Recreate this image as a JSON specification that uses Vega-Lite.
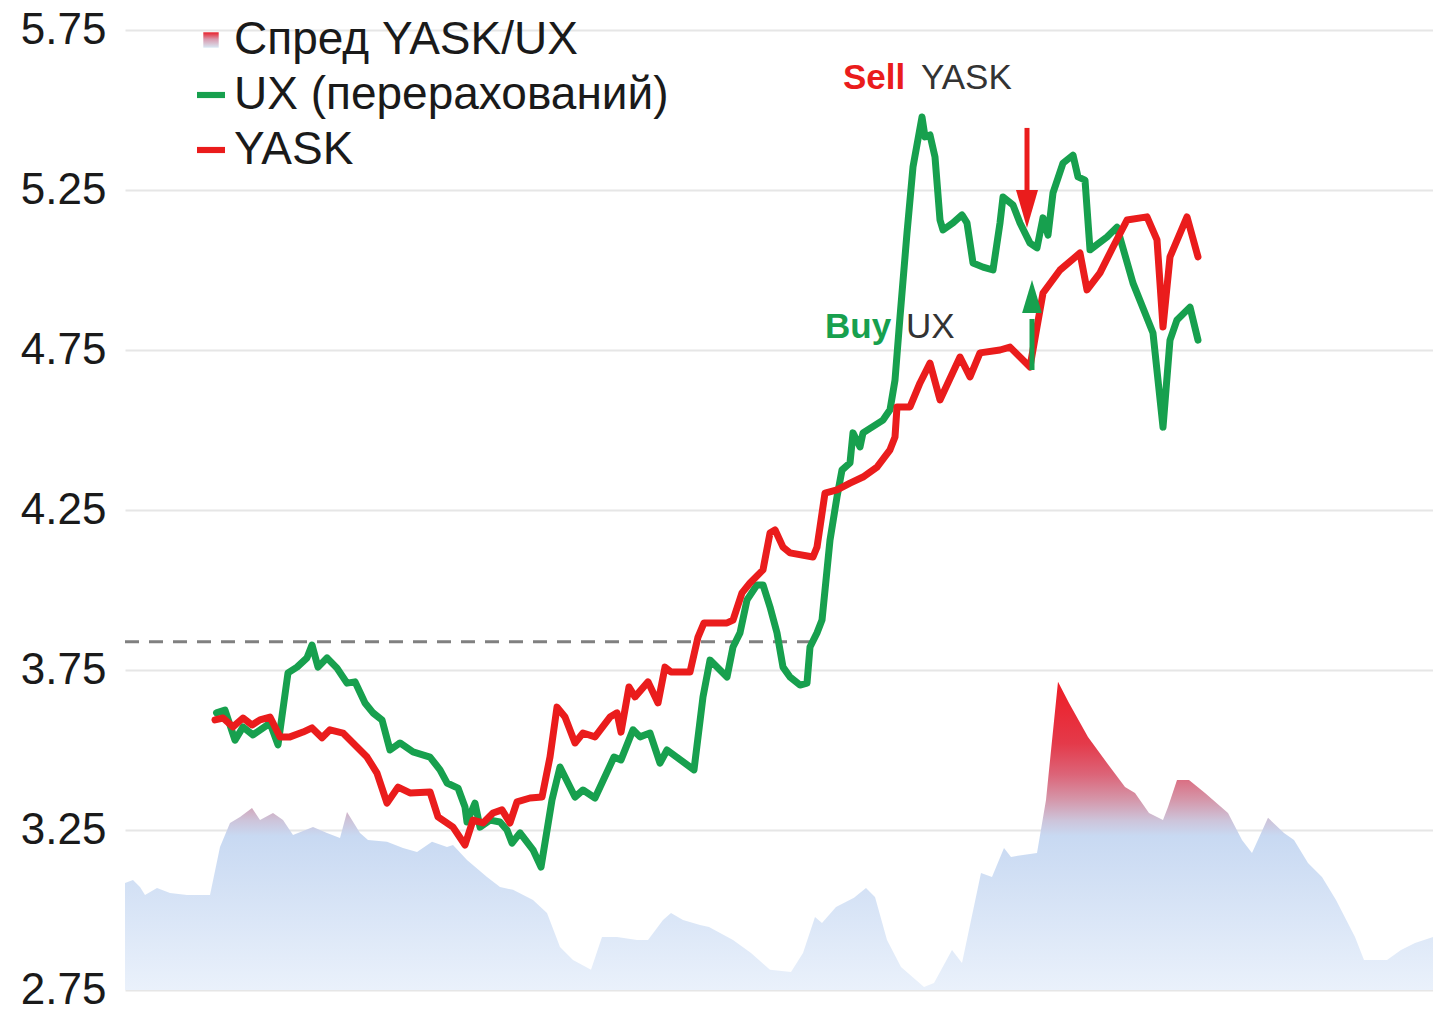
{
  "$schema": "https://vega.github.io/schema/vega-lite/v6.json",
  "width": 1308,
  "height": 960,
  "autosize": {"type": "none"},
  "padding": {"left": 125, "top": 30, "right": 0, "bottom": 22},
  "background": "white",
  "config": {"view": {"stroke": null}, "font": "Liberation Sans"},
  "datasets": {
    "spread": [
      {"t":0,"v":3.084},{"t":1.6,"v":3.094},{"t":3,"v":3.072},{"t":4,"v":3.047},{"t":6.4,"v":3.069},{"t":9,"v":3.053},{"t":12.4,"v":3.047},{"t":17,"v":3.047},{"t":19,"v":3.197},{"t":21,"v":3.272},{"t":23,"v":3.291},{"t":25.4,"v":3.319},{"t":27,"v":3.281},{"t":29.6,"v":3.303},{"t":31.6,"v":3.281},{"t":33.6,"v":3.234},{"t":37.6,"v":3.259},{"t":40.4,"v":3.241},{"t":43,"v":3.225},{"t":44.4,"v":3.306},{"t":47,"v":3.241},{"t":48.6,"v":3.219},{"t":52.4,"v":3.213},{"t":55.6,"v":3.194},{"t":58.4,"v":3.181},{"t":61.4,"v":3.213},{"t":64.4,"v":3.197},{"t":65.6,"v":3.203},{"t":68.4,"v":3.156},{"t":72.4,"v":3.103},{"t":75,"v":3.072},{"t":77.6,"v":3.063},{"t":81.6,"v":3.031},{"t":84.4,"v":2.991},{"t":87,"v":2.884},{"t":89.6,"v":2.844},{"t":93.2,"v":2.813},{"t":95.4,"v":2.916},{"t":98.4,"v":2.916},{"t":102.4,"v":2.906},{"t":104.6,"v":2.906},{"t":107.6,"v":2.969},{"t":109.2,"v":2.991},{"t":111.6,"v":2.969},{"t":115,"v":2.953},{"t":116.8,"v":2.947},{"t":121.6,"v":2.906},{"t":125.2,"v":2.866},{"t":129,"v":2.813},{"t":133.2,"v":2.806},{"t":135.6,"v":2.866},{"t":138,"v":2.978},{"t":139.4,"v":2.959},{"t":142.2,"v":3.009},{"t":145.8,"v":3.038},{"t":148.2,"v":3.069},{"t":150,"v":3.041},{"t":152.4,"v":2.906},{"t":155.2,"v":2.822},{"t":159.8,"v":2.759},{"t":161.8,"v":2.772},{"t":165.4,"v":2.875},{"t":167.4,"v":2.834},{"t":171.2,"v":3.116},{"t":173.4,"v":3.103},{"t":175.8,"v":3.194},{"t":177.2,"v":3.166},{"t":179.6,"v":3.172},{"t":182.4,"v":3.178},{"t":184.2,"v":3.344},{"t":186.6,"v":3.713},{"t":188.8,"v":3.647},{"t":192.6,"v":3.541},{"t":196.4,"v":3.459},{"t":200,"v":3.384},{"t":202,"v":3.366},{"t":204.8,"v":3.303},{"t":207.6,"v":3.281},{"t":208.6,"v":3.322},{"t":210.4,"v":3.406},{"t":212.8,"v":3.406},{"t":216,"v":3.366},{"t":220.6,"v":3.303},{"t":223.4,"v":3.219},{"t":225.4,"v":3.178},{"t":228.6,"v":3.288},{"t":231.8,"v":3.241},{"t":233.8,"v":3.219},{"t":236.6,"v":3.147},{"t":239.4,"v":3.103},{"t":242.2,"v":3.031},{"t":246,"v":2.916},{"t":247.8,"v":2.844},{"t":252.4,"v":2.844},{"t":255.2,"v":2.875},{"t":258,"v":2.897},{"t":261.6,"v":2.916}
    ],
    "prices": [
      {"s":"UX (перерахований)","t":18.3,"v":3.616},{"s":"UX (перерахований)","t":20,"v":3.625},{"s":"UX (перерахований)","t":22,"v":3.531},{"s":"UX (перерахований)","t":23.6,"v":3.572},{"s":"UX (перерахований)","t":25.6,"v":3.547},{"s":"UX (перерахований)","t":29,"v":3.584},{"s":"UX (перерахований)","t":30.6,"v":3.516},{"s":"UX (перерахований)","t":32.6,"v":3.741},{"s":"UX (перерахований)","t":34.4,"v":3.759},{"s":"UX (перерахований)","t":36.4,"v":3.788},{"s":"UX (перерахований)","t":37.4,"v":3.828},{"s":"UX (перерахований)","t":38.6,"v":3.759},{"s":"UX (перерахований)","t":40.4,"v":3.788},{"s":"UX (перерахований)","t":42.4,"v":3.756},{"s":"UX (перерахований)","t":44.4,"v":3.709},{"s":"UX (перерахований)","t":46,"v":3.713},{"s":"UX (перерахований)","t":48,"v":3.647},{"s":"UX (перерахований)","t":49.6,"v":3.616},{"s":"UX (перерахований)","t":51.4,"v":3.594},{"s":"UX (перерахований)","t":53,"v":3.5},{"s":"UX (перерахований)","t":55,"v":3.522},{"s":"UX (перерахований)","t":57.6,"v":3.494},{"s":"UX (перерахований)","t":61,"v":3.478},{"s":"UX (перерахований)","t":63,"v":3.438},{"s":"UX (перерахований)","t":64.4,"v":3.397},{"s":"UX (перерахований)","t":66.6,"v":3.381},{"s":"UX (перерахований)","t":68,"v":3.322},{"s":"UX (перерахований)","t":68.4,"v":3.275},{"s":"UX (перерахований)","t":70,"v":3.334},{"s":"UX (перерахований)","t":71,"v":3.259},{"s":"UX (перерахований)","t":73,"v":3.281},{"s":"UX (перерахований)","t":75,"v":3.275},{"s":"UX (перерахований)","t":76.4,"v":3.25},{"s":"UX (перерахований)","t":77.4,"v":3.209},{"s":"UX (перерахований)","t":79,"v":3.241},{"s":"UX (перерахований)","t":81.6,"v":3.188},{"s":"UX (перерахований)","t":83.2,"v":3.134},{"s":"UX (перерахований)","t":85.4,"v":3.344},{"s":"UX (перерахований)","t":87,"v":3.447},{"s":"UX (перерахований)","t":90,"v":3.353},{"s":"UX (перерахований)","t":91.6,"v":3.375},{"s":"UX (перерахований)","t":94,"v":3.35},{"s":"UX (перерахований)","t":97.8,"v":3.478},{"s":"UX (перерахований)","t":99.2,"v":3.469},{"s":"UX (перерахований)","t":101.6,"v":3.563},{"s":"UX (перерахований)","t":103,"v":3.541},{"s":"UX (перерахований)","t":105,"v":3.553},{"s":"UX (перерахований)","t":107,"v":3.459},{"s":"UX (перерахований)","t":108.4,"v":3.5},{"s":"UX (перерахований)","t":113.8,"v":3.438},{"s":"UX (перерахований)","t":115.6,"v":3.666},{"s":"UX (перерахований)","t":117,"v":3.781},{"s":"UX (перерахований)","t":120.4,"v":3.728},{"s":"UX (перерахований)","t":121.6,"v":3.822},{"s":"UX (перерахований)","t":123,"v":3.866},{"s":"UX (перерахований)","t":124.4,"v":3.969},{"s":"UX (перерахований)","t":126.4,"v":4.016},{"s":"UX (перерахований)","t":127.6,"v":4.016},{"s":"UX (перерахований)","t":129,"v":3.947},{"s":"UX (перерахований)","t":130.4,"v":3.866},{"s":"UX (перерахований)","t":131.6,"v":3.759},{"s":"UX (перерахований)","t":133,"v":3.728},{"s":"UX (перерахований)","t":135,"v":3.703},{"s":"UX (перерахований)","t":136.4,"v":3.709},{"s":"UX (перерахований)","t":137,"v":3.822},{"s":"UX (перерахований)","t":138.4,"v":3.866},{"s":"UX (перерахований)","t":139.4,"v":3.906},{"s":"UX (перерахований)","t":141,"v":4.156},{"s":"UX (перерахований)","t":142.4,"v":4.291},{"s":"UX (перерахований)","t":143.4,"v":4.375},{"s":"UX (перерахований)","t":145,"v":4.397},{"s":"UX (перерахований)","t":145.6,"v":4.491},{"s":"UX (перерахований)","t":147,"v":4.447},{"s":"UX (перерахований)","t":147.6,"v":4.491},{"s":"UX (перерахований)","t":151.6,"v":4.531},{"s":"UX (перерахований)","t":153,"v":4.563},{"s":"UX (перерахований)","t":154,"v":4.656},{"s":"UX (перерахований)","t":155,"v":4.853},{"s":"UX (перерахований)","t":156.4,"v":5.116},{"s":"UX (перерахований)","t":157.6,"v":5.322},{"s":"UX (перерахований)","t":159.4,"v":5.478},{"s":"UX (перерахований)","t":160,"v":5.416},{"s":"UX (перерахований)","t":161,"v":5.422},{"s":"UX (перерахований)","t":162,"v":5.353},{"s":"UX (перерахований)","t":163,"v":5.156},{"s":"UX (перерахований)","t":163.6,"v":5.125},{"s":"UX (перерахований)","t":165.6,"v":5.147},{"s":"UX (перерахований)","t":167.4,"v":5.172},{"s":"UX (перерахований)","t":168.4,"v":5.147},{"s":"UX (перерахований)","t":169.6,"v":5.022},{"s":"UX (перерахований)","t":171.6,"v":5.009},{"s":"UX (перерахований)","t":173.6,"v":5.0},{"s":"UX (перерахований)","t":175,"v":5.147},{"s":"UX (перерахований)","t":175.6,"v":5.228},{"s":"UX (перерахований)","t":177.6,"v":5.203},{"s":"UX (перерахований)","t":179,"v":5.147},{"s":"UX (перерахований)","t":181,"v":5.084},{"s":"UX (перерахований)","t":182.4,"v":5.069},{"s":"UX (перерахований)","t":183.6,"v":5.163},{"s":"UX (перерахований)","t":184.6,"v":5.109},{"s":"UX (перерахований)","t":185.6,"v":5.241},{"s":"UX (перерахований)","t":187.6,"v":5.334},{"s":"UX (перерахований)","t":189.6,"v":5.359},{"s":"UX (перерахований)","t":190.6,"v":5.291},{"s":"UX (перерахований)","t":192,"v":5.281},{"s":"UX (перерахований)","t":193,"v":5.063},{"s":"UX (перерахований)","t":196.4,"v":5.103},{"s":"UX (перерахований)","t":198.4,"v":5.134},{"s":"UX (перерахований)","t":201.6,"v":4.959},{"s":"UX (перерахований)","t":205.6,"v":4.803},{"s":"UX (перерахований)","t":207.6,"v":4.509},{"s":"UX (перерахований)","t":209,"v":4.781},{"s":"UX (перерахований)","t":210.4,"v":4.844},{"s":"UX (перерахований)","t":213,"v":4.884},{"s":"UX (перерахований)","t":214.6,"v":4.781},
      {"s":"YASK","t":18,"v":3.594},{"s":"YASK","t":19.6,"v":3.6},{"s":"YASK","t":21.6,"v":3.572},{"s":"YASK","t":23.6,"v":3.6},{"s":"YASK","t":25.4,"v":3.578},{"s":"YASK","t":27,"v":3.594},{"s":"YASK","t":29,"v":3.603},{"s":"YASK","t":31,"v":3.541},{"s":"YASK","t":33,"v":3.541},{"s":"YASK","t":35.6,"v":3.556},{"s":"YASK","t":37.4,"v":3.569},{"s":"YASK","t":39.4,"v":3.538},{"s":"YASK","t":41,"v":3.563},{"s":"YASK","t":43.6,"v":3.553},{"s":"YASK","t":45.6,"v":3.522},{"s":"YASK","t":48.4,"v":3.478},{"s":"YASK","t":50.4,"v":3.428},{"s":"YASK","t":52.4,"v":3.334},{"s":"YASK","t":54.6,"v":3.384},{"s":"YASK","t":57,"v":3.366},{"s":"YASK","t":61,"v":3.369},{"s":"YASK","t":62.6,"v":3.291},{"s":"YASK","t":65.6,"v":3.259},{"s":"YASK","t":68,"v":3.203},{"s":"YASK","t":69.6,"v":3.281},{"s":"YASK","t":71.6,"v":3.272},{"s":"YASK","t":73.6,"v":3.303},{"s":"YASK","t":75.4,"v":3.313},{"s":"YASK","t":77,"v":3.272},{"s":"YASK","t":78.4,"v":3.338},{"s":"YASK","t":81,"v":3.35},{"s":"YASK","t":83.4,"v":3.353},{"s":"YASK","t":85,"v":3.478},{"s":"YASK","t":86.4,"v":3.634},{"s":"YASK","t":88,"v":3.603},{"s":"YASK","t":90,"v":3.522},{"s":"YASK","t":91.6,"v":3.553},{"s":"YASK","t":94,"v":3.541},{"s":"YASK","t":97,"v":3.603},{"s":"YASK","t":98.4,"v":3.616},{"s":"YASK","t":99.2,"v":3.556},{"s":"YASK","t":100.8,"v":3.697},{"s":"YASK","t":102,"v":3.666},{"s":"YASK","t":104.6,"v":3.713},{"s":"YASK","t":106.6,"v":3.647},{"s":"YASK","t":108,"v":3.759},{"s":"YASK","t":109.2,"v":3.744},{"s":"YASK","t":113,"v":3.744},{"s":"YASK","t":114.6,"v":3.853},{"s":"YASK","t":115.8,"v":3.897},{"s":"YASK","t":120.4,"v":3.897},{"s":"YASK","t":121.6,"v":3.906},{"s":"YASK","t":123.4,"v":3.991},{"s":"YASK","t":125,"v":4.022},{"s":"YASK","t":127.6,"v":4.063},{"s":"YASK","t":129,"v":4.178},{"s":"YASK","t":130,"v":4.188},{"s":"YASK","t":131.6,"v":4.134},{"s":"YASK","t":133,"v":4.116},{"s":"YASK","t":137.6,"v":4.103},{"s":"YASK","t":138.4,"v":4.134},{"s":"YASK","t":139,"v":4.197},{"s":"YASK","t":140,"v":4.303},{"s":"YASK","t":142.4,"v":4.313},{"s":"YASK","t":145,"v":4.334},{"s":"YASK","t":147.6,"v":4.353},{"s":"YASK","t":150.4,"v":4.384},{"s":"YASK","t":153,"v":4.438},{"s":"YASK","t":154,"v":4.478},{"s":"YASK","t":154.4,"v":4.572},{"s":"YASK","t":157,"v":4.572},{"s":"YASK","t":159,"v":4.647},{"s":"YASK","t":161,"v":4.709},{"s":"YASK","t":163,"v":4.594},{"s":"YASK","t":167,"v":4.728},{"s":"YASK","t":169,"v":4.666},{"s":"YASK","t":171,"v":4.741},{"s":"YASK","t":175,"v":4.75},{"s":"YASK","t":177,"v":4.759},{"s":"YASK","t":181,"v":4.697},{"s":"YASK","t":182.4,"v":4.822},{"s":"YASK","t":183.6,"v":4.928},{"s":"YASK","t":187,"v":5.0},{"s":"YASK","t":191,"v":5.053},{"s":"YASK","t":192.4,"v":4.938},{"s":"YASK","t":195,"v":4.991},{"s":"YASK","t":197.6,"v":5.072},{"s":"YASK","t":200.4,"v":5.156},{"s":"YASK","t":204.4,"v":5.166},{"s":"YASK","t":206.4,"v":5.094},{"s":"YASK","t":207.6,"v":4.822},{"s":"YASK","t":209,"v":5.041},{"s":"YASK","t":212.4,"v":5.166},{"s":"YASK","t":214.6,"v":5.041}
    ],
    "ref": [{"t0": 0, "t1": 139.2, "v": 3.838}],
    "arrows": [
      {"a": "Sell", "t": 180.4, "top": 5.444, "bot": 5.25, "head": 5.191},
      {"a": "Buy", "t": 181.4, "top": 4.847, "bot": 4.6875, "head": 4.917}
    ],
    "notes": [
      {"a": "Sell", "k": "YASK", "t": 143.6, "tk": 159.2, "v": 5.566},
      {"a": "Buy", "k": "UX", "t": 140, "tk": 156.2, "v": 4.7875}
    ]
  },
  "layer": [
    {
      "data": {"name": "spread"},
      "mark": {
        "type": "area",
        "color": {
          "gradient": "linear", "x1": 0, "y1": 0, "x2": 0, "y2": 1,
          "stops": [
            {"offset": 0, "color": "#ee1c25"},
            {"offset": 0.2, "color": "#e43a4a"},
            {"offset": 0.3, "color": "#dc6478"},
            {"offset": 0.38, "color": "#d595a8"},
            {"offset": 0.45, "color": "#cdc4da"},
            {"offset": 0.5, "color": "#c8d9f2"},
            {"offset": 1, "color": "#eaf1fb"}
          ]
        }
      },
      "encoding": {
        "x": {"field": "t", "type": "quantitative", "scale": {"domain": [0, 261.6], "nice": false, "zero": false}, "axis": null},
        "y": {
          "field": "v", "type": "quantitative",
          "scale": {"domain": [2.75, 5.75], "nice": false, "zero": false},
          "axis": {
            "values": [2.75, 3.25, 3.75, 4.25, 4.75, 5.25, 5.75],
            "format": ".2f", "title": null, "domain": false, "ticks": false,
            "labelFontSize": 44, "labelFont": "Liberation Sans", "labelColor": "#1a1a1a",
            "labelPadding": 19, "grid": true, "gridColor": "#e6e6e6", "gridWidth": 2
          }
        },
        "y2": {"datum": 2.75}
      }
    },
    {
      "data": {"name": "ref"},
      "mark": {"type": "rule", "color": "#808080", "strokeWidth": 3, "strokeDash": [14, 10]},
      "encoding": {
        "x": {"field": "t0", "type": "quantitative"},
        "x2": {"field": "t1"},
        "y": {"field": "v", "type": "quantitative"}
      }
    },
    {
      "data": {"name": "prices"},
      "mark": {"type": "line", "strokeWidth": 7, "strokeJoin": "round", "strokeCap": "round"},
      "encoding": {
        "x": {"field": "t", "type": "quantitative"},
        "y": {"field": "v", "type": "quantitative"},
        "color": {
          "field": "s", "type": "nominal",
          "scale": {"domain": ["Спред YASK/UX", "UX (перерахований)", "YASK"], "range": ["#dc5a6a", "#17a04e", "#ea1c1c"]},
          "legend": {
            "orient": "none", "legendX": 63, "legendY": -13, "title": null,
            "labelFontSize": 46, "labelFont": "Liberation Sans", "labelColor": "#1a1a1a", "labelLimit": 0,
            "symbolSize": 784, "symbolType": "M-1,-0.22H1V0.22H-1Z", "symbolStrokeWidth": 0,
            "labelOffset": 0, "rowPadding": 9, "padding": 0,
            "encode": {
              "symbols": {
                "update": {
                  "shape": [
                    {"test": "datum.value === 'Спред YASK/UX'", "value": "M-0.55,-0.55H0.55V0.55H-0.55Z"},
                    {"value": "M-1,-0.22H1V0.22H-1Z"}
                  ],
                  "fill": [
                    {"test": "datum.value === 'Спред YASK/UX'", "value": {"gradient": "linear", "x1": 0, "y1": 0, "x2": 0, "y2": 1, "stops": [{"offset": 0, "color": "#e8202a"}, {"offset": 0.45, "color": "#d99aae"}, {"offset": 1, "color": "#d8e8f4"}]}},
                    {"scale": "color", "field": "value"}
                  ],
                  "stroke": {"value": "transparent"},
                  "strokeWidth": {"value": 0},
                  "opacity": {"value": 1}
                }
              }
            }
          }
        }
      }
    },
    {
      "data": {"name": "arrows"},
      "transform": [{"filter": "datum.a === 'Sell'"}],
      "mark": {"type": "rule", "color": "#ea1c1c", "strokeWidth": 5},
      "encoding": {
        "x": {"field": "t", "type": "quantitative"},
        "y": {"field": "top", "type": "quantitative"},
        "y2": {"field": "bot"}
      }
    },
    {
      "data": {"name": "arrows"},
      "transform": [{"filter": "datum.a === 'Sell'"}],
      "mark": {"type": "point", "filled": true, "opacity": 1, "color": "#ea1c1c", "shape": "M-0.58,-1L0.58,-1L0,1Z", "size": 1444},
      "encoding": {
        "x": {"field": "t", "type": "quantitative"},
        "y": {"field": "head", "type": "quantitative"}
      }
    },
    {
      "data": {"name": "arrows"},
      "transform": [{"filter": "datum.a === 'Buy'"}],
      "mark": {"type": "rule", "color": "#17a04e", "strokeWidth": 5},
      "encoding": {
        "x": {"field": "t", "type": "quantitative"},
        "y": {"field": "top", "type": "quantitative"},
        "y2": {"field": "bot"}
      }
    },
    {
      "data": {"name": "arrows"},
      "transform": [{"filter": "datum.a === 'Buy'"}],
      "mark": {"type": "point", "filled": true, "opacity": 1, "color": "#17a04e", "shape": "M-0.6,1L0.6,1L0,-1Z", "size": 1089},
      "encoding": {
        "x": {"field": "t", "type": "quantitative"},
        "y": {"field": "head", "type": "quantitative"}
      }
    },
    {
      "data": {"name": "notes"},
      "transform": [{"filter": "datum.a === 'Sell'"}],
      "mark": {"type": "text", "align": "left", "baseline": "alphabetic", "fontSize": 35, "fontWeight": "bold", "font": "Liberation Sans", "color": "#ea1c1c"},
      "encoding": {
        "x": {"field": "t", "type": "quantitative"},
        "y": {"field": "v", "type": "quantitative"},
        "text": {"field": "a"}
      }
    },
    {
      "data": {"name": "notes"},
      "transform": [{"filter": "datum.a === 'Buy'"}],
      "mark": {"type": "text", "align": "left", "baseline": "alphabetic", "fontSize": 35, "fontWeight": "bold", "font": "Liberation Sans", "color": "#17a04e"},
      "encoding": {
        "x": {"field": "t", "type": "quantitative"},
        "y": {"field": "v", "type": "quantitative"},
        "text": {"field": "a"}
      }
    },
    {
      "data": {"name": "notes"},
      "mark": {"type": "text", "align": "left", "baseline": "alphabetic", "fontSize": 35, "font": "Liberation Sans", "color": "#333333"},
      "encoding": {
        "x": {"field": "tk", "type": "quantitative"},
        "y": {"field": "v", "type": "quantitative"},
        "text": {"field": "k"}
      }
    }
  ]
}
